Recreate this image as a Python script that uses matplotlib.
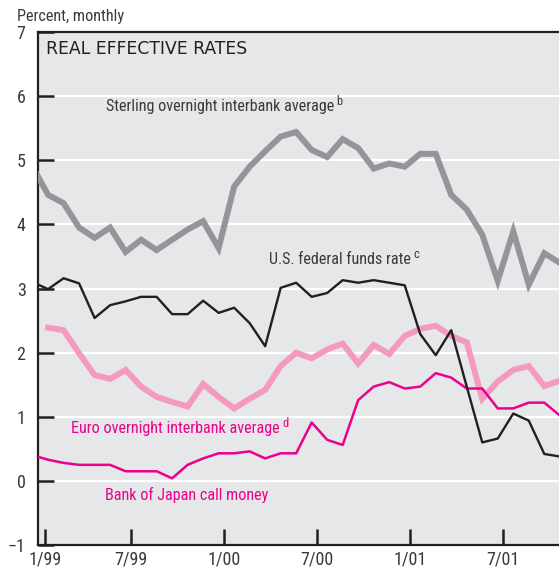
import matplotlib
matplotlib.use("Agg")
import matplotlib.pyplot as plt
import numpy as np

# monthly real effective rates, percent; first value is Dec 1998
sterling = [4.90, 4.46, 4.33, 3.95, 3.79, 3.95, 3.57, 3.76, 3.60, 3.76, 3.92, 4.05, 3.63,
            4.59, 4.90, 5.14, 5.37, 5.44, 5.16, 5.05, 5.33, 5.19, 4.87, 4.95, 4.90,
            5.10, 5.10, 4.46, 4.23, 3.84, 3.12, 3.89, 3.06, 3.55, 3.40]
us_fed = [3.10, 2.99, 3.16, 3.08, 2.54, 2.74, 2.80, 2.87, 2.87, 2.60, 2.60, 2.81, 2.62,
          2.70, 2.46, 2.10, 3.01, 3.09, 2.87, 2.93, 3.13, 3.09, 3.13, 3.09, 3.05,
          2.29, 1.96, 2.35, 1.47, 0.60, 0.66, 1.05, 0.94, 0.42, 0.38]
japan = [0.40, 0.33, 0.28, 0.25, 0.25, 0.25, 0.15, 0.15, 0.15, 0.04, 0.25, 0.35, 0.43,
         0.43, 0.46, 0.35, 0.43, 0.43, 0.91, 0.64, 0.56, 1.26, 1.47, 1.54, 1.44,
         1.47, 1.68, 1.61, 1.44, 1.44, 1.13, 1.13, 1.22, 1.22, 1.02]
# euro series starts Jan 1999
euro = [2.39, 2.35, 1.99, 1.65, 1.59, 1.73, 1.47, 1.31, 1.23, 1.16, 1.51, 1.31,
        1.13, 1.28, 1.42, 1.79, 2.00, 1.91, 2.05, 2.14, 1.83, 2.12, 1.98, 2.26,
        2.37, 2.42, 2.26, 2.16, 1.28, 1.55, 1.73, 1.79, 1.48, 1.56]

tick_pos = [0.47, 6, 12, 18, 24, 30]
tick_labels = ["1/99", "7/99", "1/00", "7/00", "1/01", "7/01"]

# months since Jan 1999, points sit late in each month
x_all = np.arange(-1, len(sterling) - 1) + 0.65
x_euro = np.arange(0, len(euro)) + 0.65

GRAY = "#939598"
PINK = "#f49ac1"
MAGENTA = "#ec008c"
INK = "#231f20"
TEXT = "#3a3a3c"

plt.rcParams["font.family"] = ["Roboto Condensed", "Archivo Narrow", "Liberation Sans", "DejaVu Sans"]

fig = plt.figure(figsize=(5.59, 5.69), dpi=100)
ax = fig.add_axes([38 / 559, 24 / 569, 1 - 38 / 559, 513 / 569])
ax.set_facecolor("#e6e7e8")

ax.set_xlim(0, 33.6)
ax.set_ylim(-1, 7)
ax.set_yticks(range(-1, 8))
ax.set_yticklabels(["\u22121"] + [str(v) for v in range(0, 8)])
ax.set_xticks(tick_pos)
ax.set_xticklabels(tick_labels)
for v in range(0, 7):
    ax.axhline(v, color="white", lw=1.6, zorder=1)

ax.plot(x_all, sterling, color=GRAY, lw=4.3, zorder=3, solid_joinstyle="miter")
ax.plot(x_euro, euro, color=PINK, lw=4.3, zorder=3, solid_joinstyle="miter")
ax.plot(x_all, japan, color=MAGENTA, lw=1.8, zorder=4)
ax.plot(x_all, us_fed, color=INK, lw=1.7, zorder=5)

for side in ("left", "bottom", "top"):
    ax.spines[side].set_linewidth(1.6)
    ax.spines[side].set_color(INK)
ax.spines["right"].set_visible(False)
ax.tick_params(axis="both", direction="in", length=11.5, width=1.8, color=INK,
               labelsize=13, labelcolor=TEXT)
ax.tick_params(axis="y", pad=9)
ax.tick_params(axis="x", pad=4)

ax.text(0.015, 0.985, "REAL EFFECTIVE RATES", transform=ax.transAxes, ha="left", va="top",
        fontsize=12.4, color=INK, family="DejaVu Sans")
fig.text(17 / 559, 1 - 17 / 569, "Percent, monthly", ha="left", va="center",
         fontsize=11.7, color=TEXT)


def label(x, y, s, sup, color):
    t = ax.text(x, y, s, ha="left", va="center", fontsize=11.6, color=color, zorder=6)
    ax.annotate(sup, xy=(1, 0.85), xycoords=t, xytext=(1.5, 0), textcoords="offset points",
                ha="left", va="center", fontsize=9, color=color)


label(4.4, 5.84, "Sterling overnight interbank average", "b", TEXT)
label(14.9, 3.45, "U.S. federal funds rate", "c", TEXT)
label(2.15, 0.81, "Euro overnight interbank average", "d", MAGENTA)
ax.text(4.3, -0.22, "Bank of Japan call money", ha="left", va="center", fontsize=11.6,
        color=MAGENTA, zorder=6)

fig.savefig("out.png", dpi=100)
